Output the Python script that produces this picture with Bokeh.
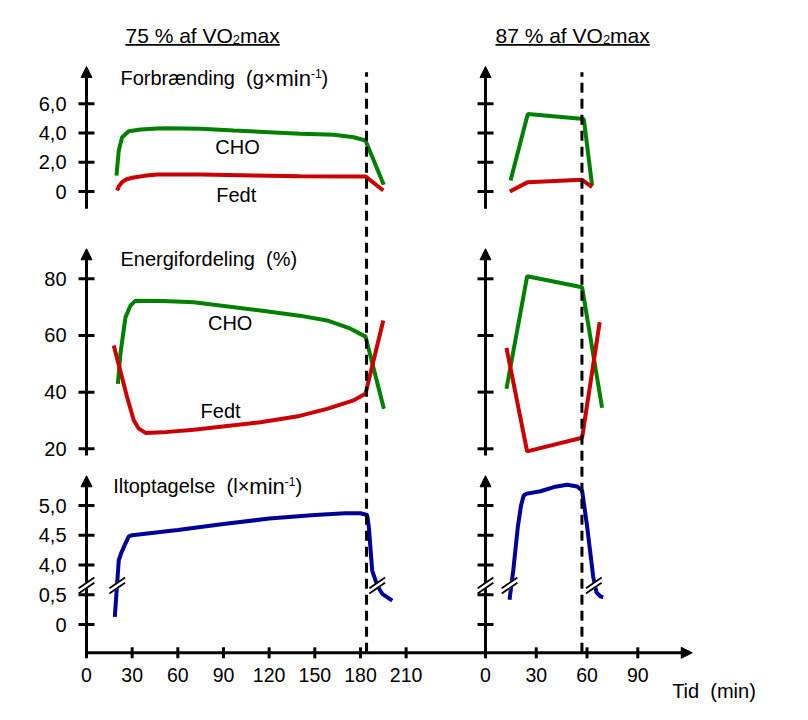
import numpy as np
from bokeh.plotting import figure
from bokeh.models import Range1d, Arrow, NormalHead
from bokeh.core.properties import value
from bokeh.embed import file_html
from bokeh.resources import INLINE

# ---------------- data ----------------
xticks_75 = [0, 30, 60, 90, 120, 150, 180, 210]
xticks_87 = [0, 30, 60, 90]
burn_ticks = [0, 2, 4, 6]
burn_labels = ["0", "2,0", "4,0", "6,0"]
share_ticks = [20, 40, 60, 80]
share_labels = ["20", "40", "60", "80"]
vo2_ticks = [0, 0.5, 4.0, 4.5, 5.0]
vo2_labels = ["0", "0,5", "4,0", "4,5", "5,0"]

stop_75 = 184   # min, end of exercise at 75 %
stop_87 = 57    # min, end of exercise at 87 %

# 75 % of VO2max -- Forbrænding (g/min)
burn_cho_t75 = [19.7, 21.2, 23.4, 27.8, 35.5, 46.4, 53, 75, 96.8, 120, 140.6, 162.5, 175.6, 183.3, 195.3]
burn_cho_75 = [1.09, 2.8, 3.71, 4.12, 4.24, 4.31, 4.33, 4.29, 4.17, 4.06, 3.95, 3.88, 3.71, 3.49, 0.46]
burn_fat_t75 = [20.1, 21.5, 23.4, 26, 30, 38, 46.4, 74.9, 110, 140.6, 183.3, 195]
burn_fat_75 = [0.07, 0.4, 0.64, 0.82, 0.94, 1.07, 1.16, 1.16, 1.1, 1.05, 1.03, 0.07]
# 87 %
burn_cho_t87 = [14.8, 25, 58.1, 63]
burn_cho_87 = [0.75, 5.3, 4.96, 0.41]
burn_fat_t87 = [14.4, 25, 57.1, 63]
burn_fat_87 = [0.0, 0.64, 0.8, 0.3]

# Energifordeling (%)
share_cho_t75 = [20.6, 22.3, 25.6, 28.9, 32.2, 50, 70.5, 114.3, 140, 158, 173.5, 183.3, 195.4]
share_cho_75 = [42.9, 53.5, 66.4, 70.6, 72.3, 72.2, 71.7, 68.8, 67, 65.3, 62.4, 59.6, 34.1]
share_fat_t75 = [17.9, 22.3, 26.7, 31.1, 34.4, 38.8, 50, 70.5, 114.3, 140, 158, 175, 183.3, 195]
share_fat_75 = [56.5, 47.4, 38.2, 30.0, 27.1, 25.6, 25.8, 26.7, 29.4, 31.6, 34.1, 37, 39.4, 65.3]
share_cho_t87 = [12.4, 24.6, 57.1, 68.9]
share_cho_87 = [41.2, 80.9, 77, 34.5]
share_fat_t87 = [12.4, 24.6, 57.1, 67.5]
share_fat_87 = [55.6, 19.1, 23.9, 64.7]

# Iltoptagelse (l/min)
vo2_t75 = [18.6, 21.2, 22.8, 25.0, 27.8, 30, 60, 90, 120, 150, 170, 180, 184.4, 185.5, 187.7, 191, 194.3, 200.9]
vo2_75 = [0.13, 4.08, 4.2, 4.33, 4.48, 4.5, 4.59, 4.69, 4.78, 4.84, 4.87, 4.87, 4.84, 4.64, 3.35, 1.6, 0.61, 0.40]
vo2_t87 = [14.2, 16.4, 19.1, 21, 22.6, 24.6, 32.5, 40.4, 48.3, 54.2, 57.1, 60.1, 63.7, 65.6, 68, 69.6]
vo2_87 = [0.415, 3.36, 4.64, 5.0, 5.17, 5.2, 5.24, 5.31, 5.35, 5.32, 5.25, 4.64, 2.57, 0.78, 0.47, 0.46]

# axis-break positions (min)
breaks_75 = [0, 20.2, 191]
breaks_87 = [0, 14.2, 64]

# ---------------- layout ----------------
W, H, M = 792, 704, 0
FONT = "Liberation Sans"
GREEN, RED, BLUE = "#008000", "#cc0000", "#000099"
PPU = {"default": 1.522, "r": 1.692}
NB = "\u00a0"


def xr(px0, ppu):
    s = -(px0 - M) / ppu
    return Range1d(s, s + W / ppu)


def yr(py, v, ppu):
    e = v + (py - M) / ppu
    return Range1d(e - H / ppu, e)


def brk(v):
    v = np.asarray(v, float)
    return np.where(v <= 0.5, v, np.where(v >= 4.0, v - 3.0, 0.5 + (v - 0.5) / 7.0))


p = figure(width=W, height=H, x_range=xr(86, PPU["default"]), y_range=yr(191, 0, 14.62),
           output_backend="svg", toolbar_location=None, x_axis_location=None,
           y_axis_location=None, min_border=0, outline_line_color=None)
p.extra_x_ranges = {"r": xr(485, PPU["r"])}
p.extra_y_ranges = {"mid": yr(448.3, 20, 2.833), "bot": yr(624, 0, 59.5)}
p.background_fill_color = "white"
p.border_fill_color = "white"
p.xgrid.visible = False
p.ygrid.visible = False

XAX = -0.476  # x-axis level in the bottom-row units

rows = [
    ("default", burn_ticks, burn_labels, -1.18, 8.55),
    ("mid", share_ticks, share_labels, 17.6, 90.6),
    ("bot", list(brk(vo2_ticks)), vo2_labels, XAX, 2.5),
]

# axes
for xn in ["default", "r"]:
    for yn, ticks, labels, lo, hi in rows:
        p.add_layout(Arrow(end=NormalHead(size=11, fill_color="black", line_color="black", line_width=1),
                           x_start=0, y_start=lo, x_end=0, y_end=hi, line_width=3, line_color="black",
                           x_range_name=xn, y_range_name=yn, level="underlay"))
        p.scatter(x=[0] * len(ticks), y=ticks, marker="dash", size=16, line_width=3,
                  line_color="black", x_range_name=xn, y_range_name=yn)
        if xn == "default":
            p.text(x=[0] * len(ticks), y=ticks, text=labels, x_offset=-20,
                   text_font=value(FONT), text_font_size="20px", text_color="black",
                   text_align="right", text_baseline="middle", x_range_name=xn, y_range_name=yn)

p.add_layout(Arrow(end=NormalHead(size=11, fill_color="black", line_color="black", line_width=1),
                   x_start=0, y_start=XAX, x_end=398, y_end=XAX, line_width=3, line_color="black",
                   y_range_name="bot", level="underlay"))
for xn, ticks in [("default", xticks_75), ("r", xticks_87)]:
    p.scatter(x=ticks, y=[XAX] * len(ticks), marker="dash", angle=np.pi / 2, size=11, line_width=3,
              line_color="black", x_range_name=xn, y_range_name="bot")
    p.text(x=ticks, y=[-0.857] * len(ticks), text=[str(t) for t in ticks],
           text_font=value(FONT), text_font_size="19.5px", text_color="black",
           text_align="center", text_baseline="middle", x_range_name=xn, y_range_name="bot")

# data lines
LW = 4
p.line(burn_cho_t75, burn_cho_75, line_color=GREEN, line_width=LW)
p.line(burn_fat_t75, burn_fat_75, line_color=RED, line_width=LW)
p.line(burn_cho_t87, burn_cho_87, line_color=GREEN, line_width=LW, x_range_name="r")
p.line(burn_fat_t87, burn_fat_87, line_color=RED, line_width=LW, x_range_name="r")
p.line(share_cho_t75, share_cho_75, line_color=GREEN, line_width=LW, y_range_name="mid")
p.line(share_fat_t75, share_fat_75, line_color=RED, line_width=LW, y_range_name="mid")
p.line(share_cho_t87, share_cho_87, line_color=GREEN, line_width=LW, x_range_name="r", y_range_name="mid")
p.line(share_fat_t87, share_fat_87, line_color=RED, line_width=LW, x_range_name="r", y_range_name="mid")
p.line(vo2_t75, brk(vo2_75), line_color=BLUE, line_width=LW, y_range_name="bot")
p.line(vo2_t87, brk(vo2_87), line_color=BLUE, line_width=LW, x_range_name="r", y_range_name="bot")

# end-of-exercise dashed lines
for xn, xs in [("default", stop_75), ("r", stop_87)]:
    p.segment(x0=[xs], y0=[XAX], x1=[xs], y1=[9.28], line_color="black", line_width=3,
              line_dash="10 6", x_range_name=xn, y_range_name="bot")

# axis breaks
BY = 0.655
for xn, xs in [("default", breaks_75), ("r", breaks_87)]:
    p.scatter(x=xs, y=[BY] * len(xs), marker="dash", angle=0.6, size=19, line_width=6,
              line_color="white", x_range_name=xn, y_range_name="bot")
    for d in (-0.045, 0.045):
        p.scatter(x=xs, y=[BY + d] * len(xs), marker="dash", angle=0.6, size=19, line_width=1.8,
                  line_color="black", x_range_name=xn, y_range_name="bot")

# texts
CW = {' ': 278, NB: 278, '%': 889, '(': 333, ')': 333, ',': 278, '-': 333, '×': 584,
      '0': 556, '1': 556, '2': 556, '5': 556, '7': 556, '8': 556,
      'C': 722, 'E': 667, 'F': 611, 'H': 722, 'I': 278, 'O': 778, 'T': 611, 'V': 667,
      'a': 556, 'b': 556, 'd': 556, 'e': 556, 'f': 278, 'g': 556, 'i': 222, 'l': 222,
      'm': 833, 'n': 556, 'o': 556, 'p': 556, 'r': 333, 's': 500, 't': 278, 'x': 500, 'æ': 889}


def tw(s, size):
    return sum(CW.get(c, 556) for c in s) * size / 1000.0


def rich(x, y, pieces, xn="default", yn="default"):
    off = 0.0
    for s, size, dy in pieces:
        p.text(x=[x], y=[y], text=[s], x_offset=off, y_offset=dy, text_font=value(FONT),
               text_font_size=f"{size}px", text_color="black", text_align="left",
               text_baseline="middle", x_range_name=xn, y_range_name=yn)
        off += tw(s, size)
    return off


for xn, x0, pct in [("default", 25.6, "75"), ("r", 5.9, "87")]:
    w = rich(x0, 10.67, [(pct + NB + "%" + NB + "af" + NB + "VO", 21, 0), ("2", 13, 4), ("max", 21, 0)], xn)
    p.segment(x0=[x0], y0=[10.03], x1=[x0 + w / PPU[xn]], y1=[10.03], line_color="black",
              line_width=1.6, x_range_name=xn)

rich(22.3, 7.78, [("Forbrænding" + NB + NB + "(g×", 20, 0), ("min", 22, 0.5), ("-1", 12, -4), (")", 20, 0)])
rich(22.3, 86.9, [("Energifordeling" + NB + NB + "(%)", 20, 0)], yn="mid")
rich(17.5, 2.336, [("Iltoptagelse" + NB + NB + "(l×", 20, 0), ("min", 22, 0.5), ("-1", 12, -4), (")", 20, 0)], yn="bot")
rich(110.3, -1.121, [("Tid" + NB + NB + "(min)", 20, 0)], xn="r", yn="bot")

for x, y, s, yn in [(99.2, 3.03, "CHO", "default"), (98.4, -0.25, "Fedt", "default"),
                    (94.4, 64.3, "CHO", "mid"), (88.1, 33.2, "Fedt", "mid")]:
    p.text(x=[x], y=[y], text=[s], text_font=value(FONT), text_font_size="20px",
           text_color="black", text_align="center", text_baseline="middle", y_range_name=yn)

open("out.html", "w").write(file_html(p, INLINE))
